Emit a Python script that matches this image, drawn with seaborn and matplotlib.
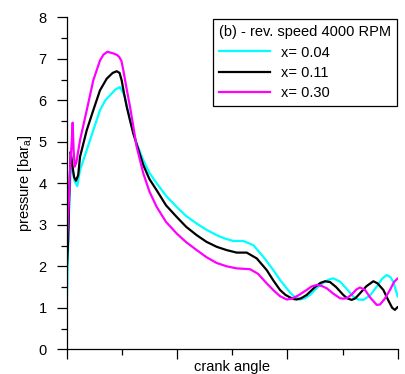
import numpy as np
import pandas as pd
import matplotlib
matplotlib.use("Agg")
import matplotlib.pyplot as plt
from matplotlib.ticker import MultipleLocator, NullFormatter
from matplotlib.lines import Line2D
import seaborn as sns

# ---- data (crank angle in degrees, pressure in bar_a) ----
x_004 = [0, 1.5, 3.0, 4.5, 6.5, 8.7, 11.5, 14.5, 18.0, 21.8, 28.9, 36.2, 42.0, 47.1, 53.0, 57.2, 58.0,
         60.5, 63.4, 68.9, 76.1, 83.3, 90.0, 97.9, 108.0, 119.6, 130.0, 141.4, 152.0, 163.1, 172.0,
         181.2, 192.1, 203.0, 213.8, 224.7, 232.0, 242.9, 248.0, 253.8, 259.0, 264.6, 272.0,
         279.0, 285.0, 290.0, 297.3, 304.0, 311.7, 317.0, 322.6, 330.0, 337.2, 343.0, 348.0,
         352.0, 355.2, 360.0]
p_004 = [1.00, 2.4, 3.7, 4.35, 4.3, 4.05, 3.93, 4.32, 4.55, 4.80, 5.28, 5.76, 6.0, 6.12, 6.26, 6.31, 6.32,
         6.22, 6.08, 5.52, 4.96, 4.56, 4.25, 4.00, 3.70, 3.43, 3.21, 3.03, 2.88, 2.75, 2.67,
         2.61, 2.61, 2.51, 2.23, 1.91, 1.67, 1.37, 1.26, 1.20, 1.23, 1.31, 1.48,
         1.60, 1.68, 1.71, 1.63, 1.47, 1.27, 1.20, 1.19, 1.30, 1.51, 1.70, 1.79,
         1.74, 1.63, 1.27]

x_011 = [0, 1.5, 3.0, 4.35, 5.8, 8.0, 10.1, 12.5, 14.5, 21.8, 28.9, 36.2, 43.5, 50.0, 54.4, 57.5, 59.8,
         62.5, 65.3, 72.4, 83.3, 90.0, 97.9, 108.0, 119.6, 130.0, 141.4, 152.0, 163.1, 174.0, 184.9,
         195.8, 206.7, 217.5, 225.0, 232.0, 238.0, 242.9, 247.0, 250.2, 255.0, 261.0, 270.0,
         276.0, 281.0, 286.4, 293.0, 300.8, 305.0, 309.9, 314.0, 319.0, 326.0, 333.5, 338.0,
         344.4, 350.0, 354.0, 357.0, 360.0]
p_011 = [1.90, 2.6, 3.9, 4.76, 4.5, 4.15, 4.06, 4.2, 4.64, 5.28, 5.76, 6.24, 6.52, 6.66, 6.70, 6.66, 6.48,
         6.15, 5.84, 5.20, 4.44, 4.10, 3.83, 3.47, 3.19, 2.95, 2.75, 2.59, 2.47, 2.39, 2.33,
         2.33, 2.19, 1.91, 1.65, 1.43, 1.31, 1.25, 1.21, 1.20, 1.23, 1.31, 1.50,
         1.60, 1.64, 1.62, 1.50, 1.31, 1.23, 1.19, 1.23, 1.35, 1.52, 1.64, 1.59,
         1.43, 1.17, 1.00, 0.95, 1.02]

x_030 = [0, 2.0, 4.0, 5.5, 6.5, 7.5, 8.7, 10.5, 14.5, 21.8, 28.9, 36.2, 40.0, 44.2, 50.7, 55.0, 57.2,
         59.5, 61.6, 65.0, 68.9, 76.1, 83.3, 90.0, 97.9, 108.0, 119.6, 130.0, 141.4, 152.0, 163.1,
         174.0, 184.9, 199.4, 208.0, 217.5, 225.0, 232.0, 239.3, 245.0, 252.0, 261.0, 266.0,
         271.9, 277.0, 282.8, 290.0, 297.3, 301.0, 304.5, 310.0, 315.0, 319.0, 324.5, 330.0,
         337.2, 340.8, 346.0, 351.6, 356.0, 360.0]
p_030 = [2.40, 3.4, 4.5, 5.0, 5.46, 4.8, 4.40, 4.5, 5.04, 5.76, 6.48, 6.96, 7.10, 7.17, 7.13, 7.09, 7.04,
         6.95, 6.72, 6.30, 5.84, 4.88, 4.24, 3.80, 3.43, 3.07, 2.79, 2.58, 2.39, 2.22, 2.08,
         2.00, 1.95, 1.93, 1.82, 1.59, 1.42, 1.28, 1.20, 1.22, 1.30, 1.43, 1.51,
         1.55, 1.53, 1.47, 1.34, 1.23, 1.22, 1.23, 1.32, 1.44, 1.49, 1.43, 1.25,
         1.07, 1.08, 1.22, 1.43, 1.62, 1.71]

labels = ["x= 0.04", "x= 0.11", "x= 0.30"]
colors = ["#00ffff", "#000000", "#ff00ff"]
legend_title = "(b) - rev. speed 4000 RPM"
y_ticks = [0, 1, 2, 3, 4, 5, 6, 7, 8]

frames = []
for lab, xs, ps in zip(labels, [x_004, x_011, x_030], [p_004, p_011, p_030]):
    frames.append(pd.DataFrame({"angle": xs, "pressure": ps, "series": lab}))
df = pd.concat(frames, ignore_index=True)

plt.rcParams["font.family"] = ["Liberation Sans", "DejaVu Sans"]
plt.rcParams["mathtext.fontset"] = "custom"
plt.rcParams["mathtext.rm"] = "Liberation Sans"
plt.rcParams["mathtext.it"] = "Liberation Sans"

fig = plt.figure(figsize=(4.06, 3.74), dpi=100)
ax = fig.add_axes([66.7 / 406, 1 - 349.3 / 374, (397.7 - 66.7) / 406, (349.3 - 17.3) / 374])

sns.lineplot(data=df, x="angle", y="pressure", hue="series", palette=dict(zip(labels, colors)),
             sort=False, estimator=None, linewidth=1.6, ax=ax, legend=False)
for ln in ax.get_lines():
    ln.set_solid_joinstyle("round")
    ln.set_solid_capstyle("round")

ax.set_xlim(0, 360)
ax.set_ylim(0, 8)
ax.set_yticks(y_ticks)
ax.yaxis.set_minor_locator(MultipleLocator(0.5))
ax.xaxis.set_major_locator(MultipleLocator(120))
ax.xaxis.set_minor_locator(MultipleLocator(60))
ax.xaxis.set_major_formatter(NullFormatter())

for s in ["top", "right"]:
    ax.spines[s].set_visible(False)
for s in ["left", "bottom"]:
    ax.spines[s].set_linewidth(0.9)
    ax.spines[s].set_color("black")

ax.tick_params(axis="both", which="major", direction="out", length=7.5, width=0.9, colors="black",
               labelsize=10.5, pad=7)
ax.tick_params(axis="both", which="minor", direction="out", length=4, width=0.9, colors="black")
ax.tick_params(axis="x", which="major", pad=2)

ax.set_ylabel("pressure [bar$_{a}$]", fontsize=10.5)
ax.yaxis.set_label_coords(-0.10, 0.5)
ax.set_xlabel("crank angle", fontsize=10.5)
ax.xaxis.set_label_coords(0.5, -0.032)
ax.xaxis.label.set_va("top")

handles = [Line2D([0], [0], color=c, lw=1.6) for c in colors]
leg = fig.legend(handles, labels, title=legend_title, loc="upper right",
                 bbox_to_anchor=(397 / 406, 1 - 19.3 / 374), borderaxespad=0,
                 fontsize=10.5, title_fontsize=10.5, frameon=True, fancybox=False,
                 edgecolor="black", framealpha=1, handlelength=3.5, handletextpad=0.75,
                 labelspacing=0.44, borderpad=0.4, alignment="left")
leg.get_frame().set_linewidth(0.9)

fig.savefig("out.png", dpi=100)
